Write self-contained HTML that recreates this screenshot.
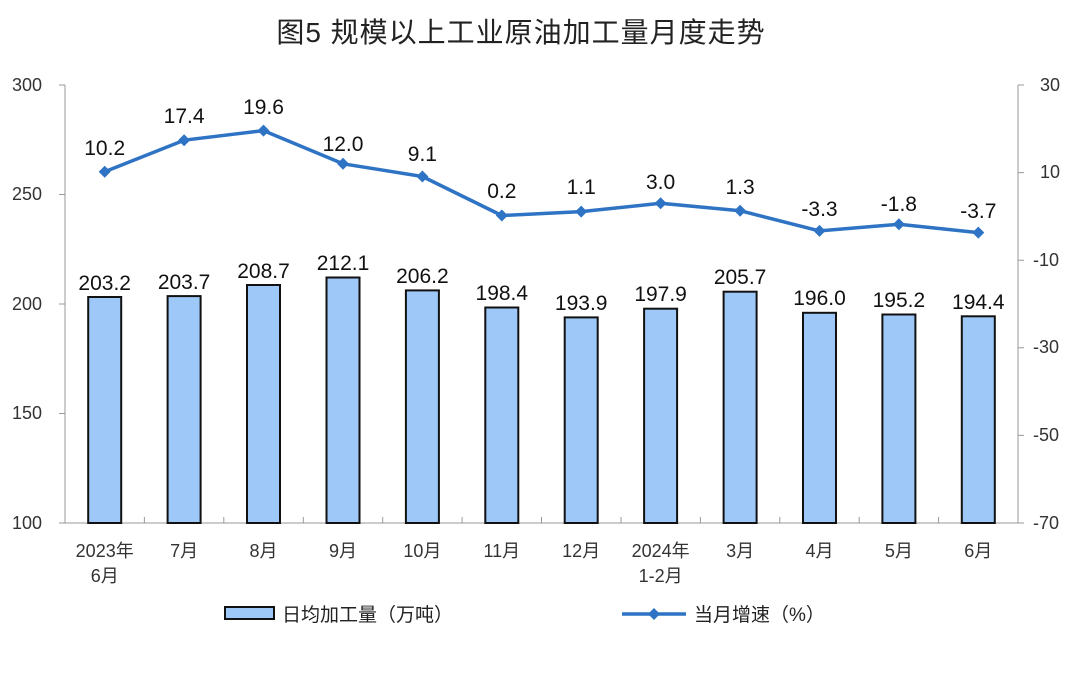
<!DOCTYPE html>
<html><head><meta charset="utf-8"><style>
body{margin:0;background:#fff;}
svg text{font-family:"Liberation Sans","Noto Sans CJK SC",sans-serif;}
.ax{font-family:"Liberation Serif","Noto Serif CJK SC",serif;font-size:18px;fill:#333;}
.dl{font-size:21px;fill:#111;text-anchor:middle;}
</style></head><body>
<svg width="1080" height="675" viewBox="0 0 1080 675">
<text x="521" y="42" text-anchor="middle" style="font-family:'Liberation Sans','Noto Sans CJK SC',sans-serif;font-size:28px;font-weight:normal;fill:#222;letter-spacing:1px">图5  规模以上工业原油加工量月度走势</text>
<g stroke="#999" stroke-width="1" fill="none">
<line x1="65" y1="85" x2="65" y2="523"/>
<line x1="1018" y1="85" x2="1018" y2="523"/>
<line x1="65" y1="523" x2="1018" y2="523"/>
<path d="M59 85H65M59 194.5H65M59 304H65M59 413.5H65M59 523H65"/>
<path d="M1018 85H1024M1018 172.6H1024M1018 260.2H1024M1018 347.8H1024M1018 435.4H1024M1018 523H1024"/>
<path d="M144.4 523v-6M223.8 523v-6M303.3 523v-6M382.7 523v-6M462.1 523v-6M541.5 523v-6M621 523v-6M700.4 523v-6M779.8 523v-6M859.2 523v-6M938.6 523v-6"/>
</g>
<g class="ax" text-anchor="end">
<text x="42" y="91">300</text><text x="42" y="200">250</text><text x="42" y="310">200</text><text x="42" y="419">150</text><text x="42" y="529">100</text>
</g>
<g class="ax" text-anchor="start">
<text x="1040" y="91">30</text><text x="1040" y="178">10</text><text x="1033" y="266">-10</text><text x="1033" y="353">-30</text><text x="1033" y="441">-50</text><text x="1033" y="529">-70</text>
</g>
<g class="ax" text-anchor="middle">
<text x="104.7" y="557">2023年</text><text x="104.7" y="582">6月</text>
<text x="184.1" y="557">7月</text><text x="263.5" y="557">8月</text><text x="343" y="557">9月</text>
<text x="422.4" y="557">10月</text><text x="501.8" y="557">11月</text><text x="581.2" y="557">12月</text>
<text x="660.6" y="557">2024年</text><text x="660.6" y="582">1-2月</text>
<text x="740.1" y="557">3月</text><text x="819.5" y="557">4月</text><text x="898.9" y="557">5月</text><text x="978.3" y="557">6月</text>
</g>
<g fill="#9dc8f8" stroke="#111" stroke-width="2">
<rect x="88.2" y="297" width="33" height="226"/>
<rect x="167.6" y="296.1" width="33" height="226.9"/>
<rect x="247" y="285" width="33" height="238"/>
<rect x="326.5" y="277.5" width="33" height="245.5"/>
<rect x="405.9" y="290.4" width="33" height="232.6"/>
<rect x="485.3" y="307.5" width="33" height="215.5"/>
<rect x="564.7" y="317.4" width="33" height="205.6"/>
<rect x="644.1" y="308.7" width="33" height="214.3"/>
<rect x="723.6" y="291.7" width="33" height="231.3"/>
<rect x="803" y="312.8" width="33" height="210.2"/>
<rect x="882.4" y="314.5" width="33" height="208.5"/>
<rect x="961.8" y="316.3" width="33" height="206.7"/>
</g>
<g class="dl">
<text x="104.7" y="290">203.2</text><text x="184.1" y="289">203.7</text><text x="263.5" y="278">208.7</text><text x="343" y="270">212.1</text>
<text x="422.4" y="283">206.2</text><text x="501.8" y="300">198.4</text><text x="581.2" y="310">193.9</text><text x="660.6" y="301">197.9</text>
<text x="740.1" y="284">205.7</text><text x="819.5" y="305">196.0</text><text x="898.9" y="307">195.2</text><text x="978.3" y="309">194.4</text>
</g>
<polyline fill="none" stroke="#2f74c4" stroke-width="3.5" stroke-linejoin="round" points="104.7,171.7 184.1,140.2 263.5,130.6 343,163.8 422.4,176.5 501.8,215.5 581.2,211.6 660.6,203.3 740.1,210.7 819.5,230.9 898.9,224.3 978.3,232.6"/>
<g fill="#2f74c4">
<path d="M104.7 165.7l6 6-6 6-6-6z"/><path d="M184.1 134.2l6 6-6 6-6-6z"/><path d="M263.5 124.6l6 6-6 6-6-6z"/><path d="M343 157.8l6 6-6 6-6-6z"/>
<path d="M422.4 170.5l6 6-6 6-6-6z"/><path d="M501.8 209.5l6 6-6 6-6-6z"/><path d="M581.2 205.6l6 6-6 6-6-6z"/><path d="M660.6 197.3l6 6-6 6-6-6z"/>
<path d="M740.1 204.7l6 6-6 6-6-6z"/><path d="M819.5 224.9l6 6-6 6-6-6z"/><path d="M898.9 218.3l6 6-6 6-6-6z"/><path d="M978.3 226.6l6 6-6 6-6-6z"/>
</g>
<g class="dl">
<text x="104.7" y="155">10.2</text><text x="184.1" y="123">17.4</text><text x="263.5" y="114">19.6</text><text x="343" y="151">12.0</text>
<text x="422.4" y="161">9.1</text><text x="501.8" y="198">0.2</text><text x="581.2" y="194">1.1</text><text x="660.6" y="189">3.0</text>
<text x="740.1" y="194">1.3</text><text x="819.5" y="216">-3.3</text><text x="898.9" y="211">-1.8</text><text x="978.3" y="218">-3.7</text>
</g>
<rect x="225" y="607" width="49" height="12" fill="#9dc8f8" stroke="#111" stroke-width="2"/>
<text x="282" y="621" style="font-size:19px;fill:#222">日均加工量（万吨）</text>
<line x1="622" y1="614" x2="686" y2="614" stroke="#2f74c4" stroke-width="3.5"/>
<path d="M654 608l6 6-6 6-6-6z" fill="#2f74c4"/>
<text x="694" y="621" style="font-size:19px;fill:#222">当月增速（%）</text>
</svg>
</body></html>
